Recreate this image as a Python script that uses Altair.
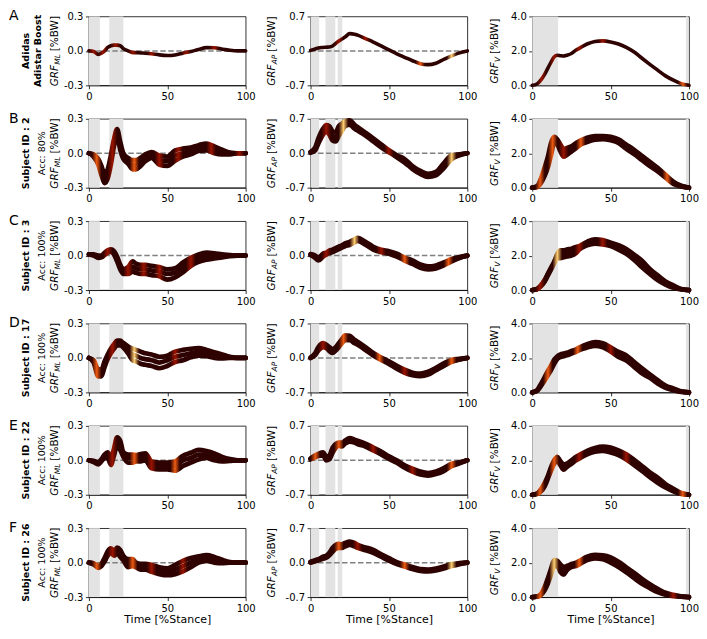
import pandas as pd
import altair as alt

FONT = "DejaVu Sans"

# stance grids (% of stance) for each column
stance_ml = [0, 3, 6, 8, 10, 12, 14, 16, 18, 20, 22, 25, 28, 30, 33, 36, 40, 45, 50, 55, 60, 65, 70, 75, 80, 85, 90, 95, 100]
stance_ap = [0, 3, 5, 8, 10, 12, 14, 16, 18, 20, 22, 25, 28, 30, 35, 40, 45, 50, 55, 60, 65, 70, 75, 80, 85, 90, 95, 100]
stance_v = stance_ap

# GRF_ML  (row A = shoe mean, rows B-F = upper / middle / lower trial)
ml_a = [[0.0, -0.005, -0.03, -0.02, 0.0, 0.03, 0.045, 0.05, 0.05, 0.045, 0.02, 0.0, -0.015, -0.015, -0.018, -0.02, -0.025, -0.035, -0.04, -0.035, -0.02, -0.005, 0.012, 0.028, 0.027, 0.015, 0.005, 0.0, 0.0]]
ml_b = [[0, -0.01, -0.05, -0.11, -0.18, -0.14, -0.02, 0.12, 0.21, 0.1, 0.0, -0.04, -0.06, -0.06, -0.04, -0.01, 0.01, -0.02, -0.03, 0.025, 0.04, 0.05, 0.07, 0.085, 0.06, 0.03, 0.005, 0, 0],
        [0, -0.02, -0.08, -0.15, -0.22, -0.18, -0.06, 0.1, 0.18, 0.06, -0.03, -0.07, -0.1, -0.1, -0.07, -0.04, -0.01, -0.06, -0.07, -0.02, 0.0, 0.02, 0.04, 0.055, 0.03, 0.01, 0.0, 0, 0],
        [0, -0.03, -0.1, -0.19, -0.26, -0.22, -0.1, 0.06, 0.15, 0.03, -0.05, -0.09, -0.14, -0.14, -0.11, -0.07, -0.04, -0.1, -0.11, -0.065, -0.03, -0.01, 0.02, 0.025, 0.0, -0.01, -0.01, 0, 0]]
ml_c = [[0.01, 0.01, 0.0, 0.0, 0.025, 0.045, 0.055, 0.04, -0.01, -0.08, -0.12, -0.1, -0.05, -0.07, -0.08, -0.08, -0.09, -0.1, -0.12, -0.11, -0.06, -0.02, 0.01, 0.025, 0.02, 0.01, 0.005, 0, 0],
        [0.01, 0.005, -0.01, -0.01, 0.015, 0.035, 0.045, 0.025, -0.03, -0.1, -0.14, -0.13, -0.1, -0.11, -0.12, -0.12, -0.13, -0.14, -0.16, -0.15, -0.1, -0.055, -0.02, 0.0, 0.0, 0.0, 0.0, 0, 0],
        [0.01, 0.0, -0.02, -0.015, 0.005, 0.025, 0.035, 0.01, -0.05, -0.12, -0.16, -0.16, -0.14, -0.15, -0.16, -0.16, -0.17, -0.18, -0.21, -0.19, -0.145, -0.09, -0.055, -0.035, -0.025, -0.015, -0.005, 0, 0]]
ml_d = [[0, -0.02, -0.1, -0.1, -0.03, 0.03, 0.08, 0.12, 0.15, 0.15, 0.13, 0.1, 0.08, 0.07, 0.055, 0.04, 0.03, 0.01, 0.02, 0.055, 0.07, 0.08, 0.085, 0.07, 0.05, 0.03, 0.01, 0, 0],
        [0, -0.03, -0.13, -0.13, -0.05, 0.01, 0.06, 0.1, 0.13, 0.13, 0.11, 0.07, 0.03, 0.02, 0.0, -0.01, -0.02, -0.04, -0.02, 0.01, 0.025, 0.04, 0.05, 0.04, 0.025, 0.01, 0.005, 0, 0],
        [0, -0.04, -0.16, -0.16, -0.08, -0.01, 0.04, 0.08, 0.11, 0.11, 0.09, 0.04, -0.02, -0.03, -0.05, -0.06, -0.07, -0.09, -0.07, -0.035, -0.02, 0.005, 0.02, 0.015, 0.0, -0.005, 0.0, 0, 0]]
ml_e = [[0, -0.005, -0.015, 0.01, 0.05, 0.07, 0.02, 0.1, 0.2, 0.17, 0.07, 0.05, 0.05, 0.045, 0.055, 0.06, -0.01, -0.02, -0.02, -0.01, 0.04, 0.065, 0.09, 0.08, 0.06, 0.03, 0.01, 0, 0],
        [0, -0.01, -0.025, 0.0, 0.035, 0.05, -0.01, 0.07, 0.17, 0.13, 0.05, 0.02, 0.02, 0.02, 0.025, 0.03, -0.04, -0.05, -0.05, -0.05, 0.0, 0.02, 0.05, 0.05, 0.03, 0.01, 0.0, 0, 0],
        [0, -0.015, -0.035, -0.01, 0.02, 0.02, -0.04, 0.04, 0.13, 0.09, 0.03, -0.02, -0.02, -0.01, -0.01, 0.0, -0.07, -0.08, -0.08, -0.09, -0.05, -0.02, 0.007, 0.02, 0.0, -0.01, -0.005, 0, 0]]
ml_f = [[0, -0.005, -0.03, -0.01, 0.04, 0.1, 0.125, 0.1, 0.13, 0.11, 0.06, 0.03, 0.03, 0.0, -0.01, -0.01, -0.02, -0.04, -0.05, -0.02, 0.015, 0.04, 0.055, 0.065, 0.05, 0.025, 0.005, 0, 0],
        [0, -0.01, -0.04, -0.02, 0.03, 0.08, 0.11, 0.08, 0.11, 0.08, 0.04, 0.0, 0.0, -0.02, -0.035, -0.035, -0.05, -0.07, -0.08, -0.06, -0.03, 0.0, 0.03, 0.04, 0.025, 0.01, 0.0, 0, 0],
        [0, -0.015, -0.045, -0.03, 0.01, 0.06, 0.09, 0.06, 0.08, 0.05, 0.02, -0.04, -0.03, -0.04, -0.06, -0.06, -0.08, -0.1, -0.11, -0.1, -0.075, -0.04, 0.0, 0.015, 0.0, -0.005, 0.0, 0, 0]]

# GRF_AP
ap_a = [[0.01, 0.04, 0.06, 0.07, 0.075, 0.08, 0.1, 0.15, 0.2, 0.24, 0.28, 0.35, 0.34, 0.32, 0.25, 0.18, 0.1, 0.02, -0.06, -0.13, -0.2, -0.26, -0.28, -0.25, -0.17, -0.1, -0.04, 0.0]]
ap_b = [[0.03, 0.12, 0.3, 0.5, 0.57, 0.55, 0.45, 0.42, 0.55, 0.6, 0.65, 0.67, 0.58, 0.53, 0.42, 0.3, 0.18, 0.06, -0.04, -0.12, -0.26, -0.36, -0.42, -0.38, -0.2, -0.04, -0.02, 0],
        [0.02, 0.09, 0.25, 0.45, 0.5, 0.46, 0.35, 0.32, 0.45, 0.52, 0.6, 0.63, 0.54, 0.5, 0.39, 0.27, 0.15, 0.04, -0.06, -0.15, -0.29, -0.39, -0.45, -0.42, -0.25, -0.08, -0.03, 0],
        [0.01, 0.06, 0.2, 0.38, 0.44, 0.38, 0.26, 0.24, 0.35, 0.45, 0.55, 0.58, 0.5, 0.46, 0.36, 0.24, 0.12, 0.02, -0.08, -0.19, -0.32, -0.42, -0.48, -0.45, -0.3, -0.12, -0.04, 0]]
ap_c = [[0.03, 0.0, -0.04, 0.04, 0.06, 0.1, 0.12, 0.15, 0.18, 0.21, 0.25, 0.28, 0.33, 0.36, 0.28, 0.18, 0.12, 0.09, 0.04, -0.04, -0.1, -0.18, -0.22, -0.2, -0.14, -0.07, -0.03, 0],
        [0.02, -0.02, -0.07, 0.01, 0.04, 0.07, 0.1, 0.12, 0.15, 0.18, 0.22, 0.25, 0.3, 0.33, 0.25, 0.15, 0.1, 0.06, 0.01, -0.07, -0.13, -0.21, -0.25, -0.23, -0.17, -0.1, -0.04, 0],
        [0.01, -0.05, -0.1, -0.02, 0.02, 0.05, 0.07, 0.1, 0.13, 0.16, 0.19, 0.22, 0.27, 0.3, 0.22, 0.12, 0.07, 0.04, -0.02, -0.1, -0.17, -0.25, -0.28, -0.26, -0.2, -0.12, -0.05, 0]]
ap_d = [[0.01, 0.1, 0.22, 0.3, 0.27, 0.22, 0.18, 0.22, 0.3, 0.38, 0.46, 0.45, 0.37, 0.33, 0.22, 0.1, 0.01, -0.07, -0.16, -0.24, -0.3, -0.32, -0.28, -0.2, -0.11, -0.04, -0.02, 0],
        [0.0, 0.08, 0.18, 0.26, 0.23, 0.18, 0.14, 0.18, 0.26, 0.34, 0.41, 0.41, 0.33, 0.3, 0.19, 0.07, -0.02, -0.1, -0.19, -0.27, -0.33, -0.35, -0.31, -0.23, -0.14, -0.06, -0.03, 0],
        [0.0, 0.06, 0.15, 0.22, 0.2, 0.14, 0.1, 0.15, 0.22, 0.3, 0.36, 0.36, 0.3, 0.27, 0.16, 0.05, -0.04, -0.12, -0.22, -0.3, -0.35, -0.37, -0.34, -0.25, -0.16, -0.08, -0.03, 0]]
ap_e = [[0.04, 0.1, 0.13, 0.16, 0.08, 0.1, 0.25, 0.33, 0.36, 0.36, 0.4, 0.45, 0.42, 0.4, 0.34, 0.26, 0.18, 0.08, 0.0, -0.1, -0.17, -0.23, -0.26, -0.23, -0.16, -0.07, -0.04, 0],
        [0.03, 0.08, 0.11, 0.13, 0.04, 0.06, 0.2, 0.29, 0.33, 0.32, 0.37, 0.42, 0.39, 0.37, 0.31, 0.23, 0.15, 0.05, -0.03, -0.12, -0.2, -0.26, -0.29, -0.26, -0.19, -0.1, -0.05, 0],
        [0.02, 0.06, 0.09, 0.1, 0.0, 0.02, 0.15, 0.25, 0.3, 0.28, 0.34, 0.38, 0.36, 0.33, 0.28, 0.2, 0.12, 0.03, -0.05, -0.15, -0.23, -0.29, -0.31, -0.28, -0.22, -0.12, -0.06, 0]]
ap_f = [[0.02, 0.05, 0.07, 0.12, 0.14, 0.2, 0.3, 0.36, 0.38, 0.37, 0.4, 0.43, 0.4, 0.36, 0.31, 0.26, 0.17, 0.09, 0.01, -0.04, -0.09, -0.13, -0.14, -0.12, -0.08, -0.03, -0.01, 0],
        [0.01, 0.04, 0.06, 0.1, 0.12, 0.17, 0.26, 0.32, 0.34, 0.33, 0.37, 0.4, 0.37, 0.33, 0.28, 0.23, 0.15, 0.06, -0.01, -0.06, -0.11, -0.15, -0.16, -0.14, -0.1, -0.05, -0.02, 0],
        [0.0, 0.03, 0.05, 0.08, 0.1, 0.15, 0.22, 0.28, 0.3, 0.3, 0.33, 0.36, 0.33, 0.3, 0.25, 0.2, 0.12, 0.04, -0.03, -0.08, -0.13, -0.17, -0.18, -0.16, -0.12, -0.07, -0.03, 0]]

# GRF_V
v_a = [[0.0, 0.08, 0.25, 0.65, 1.0, 1.35, 1.65, 1.75, 1.72, 1.7, 1.75, 1.85, 2.05, 2.15, 2.4, 2.55, 2.58, 2.52, 2.4, 2.2, 1.93, 1.57, 1.22, 0.88, 0.55, 0.3, 0.1, 0.0]]
v_b = [[0, 0.08, 0.4, 1.2, 1.8, 2.6, 2.95, 2.8, 2.5, 2.25, 2.3, 2.4, 2.6, 2.7, 2.9, 3.0, 3.0, 2.95, 2.8, 2.5, 2.2, 1.85, 1.5, 1.15, 0.75, 0.35, 0.12, 0],
       [0, 0.05, 0.3, 0.95, 1.5, 2.25, 2.8, 2.65, 2.3, 2.05, 2.1, 2.25, 2.45, 2.57, 2.77, 2.9, 2.92, 2.85, 2.7, 2.38, 2.08, 1.73, 1.38, 1.05, 0.67, 0.29, 0.1, 0],
       [0, 0.03, 0.2, 0.7, 1.2, 1.9, 2.6, 2.5, 2.1, 1.8, 1.9, 2.1, 2.3, 2.45, 2.65, 2.78, 2.82, 2.75, 2.6, 2.25, 1.95, 1.6, 1.25, 0.95, 0.58, 0.22, 0.07, 0]]
v_c = [[0, 0.06, 0.22, 0.6, 0.95, 1.3, 1.65, 2.1, 2.3, 2.3, 2.35, 2.4, 2.5, 2.55, 2.8, 2.95, 2.9, 2.75, 2.6, 2.38, 2.05, 1.7, 1.23, 0.85, 0.5, 0.27, 0.06, 0],
       [0, 0.05, 0.2, 0.55, 0.9, 1.25, 1.6, 1.95, 2.1, 2.1, 2.15, 2.2, 2.32, 2.45, 2.7, 2.82, 2.78, 2.65, 2.47, 2.24, 1.9, 1.52, 1.08, 0.72, 0.4, 0.2, 0.05, 0],
       [0, 0.04, 0.18, 0.5, 0.85, 1.2, 1.55, 1.85, 1.85, 1.9, 1.95, 2.0, 2.15, 2.35, 2.6, 2.7, 2.65, 2.55, 2.35, 2.1, 1.75, 1.33, 0.94, 0.58, 0.32, 0.13, 0.03, 0]]
v_d = [[0, 0.12, 0.4, 0.9, 1.25, 1.55, 1.9, 2.1, 2.2, 2.25, 2.3, 2.4, 2.5, 2.6, 2.8, 2.92, 2.85, 2.62, 2.35, 2.15, 1.77, 1.4, 1.05, 0.71, 0.4, 0.23, 0.06, 0],
       [0, 0.1, 0.35, 0.8, 1.12, 1.42, 1.77, 2.02, 2.12, 2.17, 2.22, 2.32, 2.42, 2.52, 2.7, 2.8, 2.74, 2.5, 2.2, 2.0, 1.62, 1.25, 0.95, 0.6, 0.33, 0.17, 0.05, 0],
       [0, 0.08, 0.3, 0.7, 1.0, 1.3, 1.65, 1.95, 2.05, 2.1, 2.15, 2.25, 2.35, 2.45, 2.6, 2.7, 2.62, 2.38, 2.06, 1.85, 1.48, 1.1, 0.85, 0.52, 0.27, 0.13, 0.03, 0]]
v_e = [[0, 0.06, 0.25, 0.7, 1.1, 1.6, 2.0, 2.2, 1.95, 1.75, 1.8, 2.0, 2.2, 2.3, 2.55, 2.72, 2.8, 2.74, 2.58, 2.35, 2.02, 1.67, 1.3, 0.99, 0.62, 0.35, 0.1, 0],
       [0, 0.05, 0.2, 0.6, 1.0, 1.5, 1.9, 2.05, 1.82, 1.6, 1.7, 1.9, 2.1, 2.2, 2.45, 2.6, 2.67, 2.6, 2.45, 2.2, 1.88, 1.52, 1.15, 0.85, 0.52, 0.27, 0.07, 0],
       [0, 0.04, 0.15, 0.5, 0.95, 1.4, 1.8, 1.95, 1.7, 1.45, 1.6, 1.8, 2.0, 2.1, 2.35, 2.5, 2.55, 2.45, 2.3, 2.05, 1.72, 1.38, 1.02, 0.7, 0.42, 0.2, 0.05, 0]]
v_f = [[0, 0.04, 0.12, 0.6, 1.1, 1.65, 2.15, 2.1, 1.9, 1.75, 1.8, 1.92, 2.0, 2.1, 2.35, 2.45, 2.42, 2.3, 2.05, 1.73, 1.4, 1.06, 0.75, 0.48, 0.25, 0.13, 0.04, 0],
       [0, 0.03, 0.1, 0.5, 0.95, 1.48, 1.95, 1.95, 1.68, 1.5, 1.65, 1.82, 1.9, 2.0, 2.25, 2.35, 2.32, 2.15, 1.9, 1.58, 1.26, 0.92, 0.63, 0.39, 0.19, 0.1, 0.03, 0],
       [0, 0.02, 0.08, 0.4, 0.8, 1.3, 1.8, 1.8, 1.45, 1.3, 1.55, 1.75, 1.8, 1.9, 2.15, 2.25, 2.2, 2.0, 1.75, 1.44, 1.1, 0.77, 0.52, 0.29, 0.14, 0.06, 0.02, 0]]

# shaded gait phases (start, end) in % stance
bands_ml = [(0, 7), (13, 22)]
bands_ap = [(0, 5.5), (9.5, 15.8), (17.3, 20.2)]
bands_v = [(0, 16.5), (98, 99.6)]

row_letters = ["A", "B", "C", "D", "E", "F"]
shoe_name = ["Adidas", "Adistar Boost"]
subject_ids = ["2", "3", "17", "22", "26"]
accuracies = ["80%", "100%", "100%", "100%", "100%"]

# relevance hot spots along stance (stance %, level) -> drawn as colour gradient
hot_spots = {
    "ML": [[(3, 1), (9, 1), (17, 1), (28, 1), (40, 1), (62, 1), (80, 1)],
           [(5, 2), (15, 1), (29, 2), (45, 1), (57, 1), (78, 1), (96, 1)],
           [(12, 1), (25, 1), (35, 1), (45, 1), (65, 1)],
           [(5, 2), (15, 1), (29, 3), (55, 1)],
           [(15, 1), (29, 2), (40, 1), (55, 2)],
           [(5, 2), (15, 1), (28, 2), (40, 1), (60, 1)]],
    "AP": [[(18, 1), (35, 1), (70, 2), (90, 3)],
           [(10, 1), (21, 3), (50, 1), (90, 3)],
           [(10, 1), (28, 3), (45, 1), (60, 2), (88, 2)],
           [(8, 1), (21, 2), (44, 2), (60, 1), (90, 2)],
           [(3, 2), (18, 2), (40, 1), (65, 1), (90, 2)],
           [(18, 2), (30, 1), (60, 2), (90, 3)]],
    "V": [[(6, 1), (14, 1), (30, 1), (45, 1), (96, 2)],
          [(5, 2), (13, 2), (20, 1), (31, 2), (86, 2)],
          [(5, 1), (16, 3), (30, 1), (45, 1)],
          [(10, 2), (29, 2), (50, 1)],
          [(5, 2), (14, 2), (30, 1), (60, 1), (96, 2)],
          [(5, 2), (14, 3), (30, 2), (90, 1)]],
}
BASE = "#2e0200"
HOT = {1: "#9a1400", 2: "#ee5a10", 3: "#ffcf70"}

COLUMNS = [
    dict(key="ML", xs=stance_ml, rows=[ml_a, ml_b, ml_c, ml_d, ml_e, ml_f], domain=[-0.3, 0.3],
         ticks=[-0.3, 0.0, 0.3], bands=bands_ml, sub="ML", sub_w=10.6, zero=True, title_x=-34),
    dict(key="AP", xs=stance_ap, rows=[ap_a, ap_b, ap_c, ap_d, ap_e, ap_f], domain=[-0.7, 0.7],
         ticks=[-0.7, 0.0, 0.7], bands=bands_ap, sub="AP", sub_w=9.7, zero=True, title_x=-39),
    dict(key="V", xs=stance_v, rows=[v_a, v_b, v_c, v_d, v_e, v_f], domain=[0, 4],
         ticks=[0.0, 2.0, 4.0], bands=bands_v, sub="V", sub_w=5.1, zero=False, title_x=-37),
]

W, H = 157, 69


def gradient(spots):
    stops = [(0.0, BASE)]
    for s, lvl in spots:
        stops += [(max(s - 3, 0), BASE), (s, HOT[lvl]), (min(s + 3, 100), BASE)]
    stops.append((100.0, BASE))
    return alt.LinearGradient(
        gradient="linear", x1=0, y1=0, x2=1, y2=0,
        stops=[alt.GradientStop(offset=o / 100, color=c) for o, c in stops],
    )


def label(text, x, y, **kw):
    return alt.Chart(pd.DataFrame({"t": [text]})).mark_text(font=FONT, **kw).encode(
        text="t:N", x=alt.value(x), y=alt.value(y)
    )


def panel(r, c):
    col = COLUMNS[c]
    xs = col["xs"]
    curves = col["rows"][r]
    df = pd.DataFrame({
        "stance": [x for cv in curves for x in xs],
        "value": [y for cv in curves for y in cv],
        "trial": [i for i, cv in enumerate(curves) for _ in xs],
    })
    xsc = alt.Scale(domain=[0, 100], nice=False)
    ysc = alt.Scale(domain=col["domain"], nice=False, zero=False)
    xax_kw = dict(values=[0, 50, 100], format="d", labelFlush=False, title="")
    if r == 5:
        xax_kw["title"] = "Time [%Stance]"
    xax = alt.Axis(**xax_kw)
    yax = alt.Axis(values=col["ticks"], title="",
                   labelExpr="datum.value < 0 ? '-' + format(-datum.value, '.1f') : format(datum.value, '.1f')")

    bands = alt.Chart(pd.DataFrame(col["bands"], columns=["start", "end"])).mark_rect(
        color="#e3e3e3"
    ).encode(x=alt.X("start:Q", scale=xsc, axis=xax), x2="end:Q")

    lines = alt.Chart(df).mark_line(
        color=gradient(hot_spots[col["key"]][r]), strokeWidth=3.6 if r == 0 else 4.7,
        interpolate="monotone", strokeCap="round", strokeJoin="round",
    ).encode(
        x=alt.X("stance:Q", scale=xsc, axis=xax),
        y=alt.Y("value:Q", scale=ysc, axis=yax),
        detail="trial:N",
    )

    layers = [bands]
    if col["zero"]:
        layers.append(alt.Chart(pd.DataFrame({"value": [0.0]})).mark_rule(
            color="#808080", strokeWidth=1.5, strokeDash=[5.5, 2.5]
        ).encode(y=alt.Y("value:Q", scale=ysc, axis=yax)))
    layers.append(lines)

    # y-axis title: italic GRF with subscript, then [%BW]
    wg, ws, wb = 21.5, col["sub_w"], 35.8
    bottom = H / 2 + (wg + ws + 3 + wb) / 2
    tx = col["title_x"]
    rot = dict(angle=270, align="left", baseline="middle")
    layers.append(label("GRF", tx, bottom, fontSize=10.5, fontStyle="italic", **rot))
    layers.append(label(col["sub"], tx + 3, bottom - wg, fontSize=7.5, fontStyle="italic", **rot))
    layers.append(label("[%BW]", tx, bottom - wg - ws - 3, fontSize=10.5, **rot))

    if c == 0:
        layers.append(label(row_letters[r], -80, 4, fontSize=14, align="left", baseline="alphabetic"))
        cen = dict(angle=270, align="center", baseline="middle", fontSize=9.5)
        if r == 0:
            layers.append(label(shoe_name[0], -63, H / 2, fontWeight="bold", **cen))
            layers.append(label(shoe_name[1], -51, H / 2, fontWeight="bold", **cen))
        else:
            layers.append(label("Subject ID : " + subject_ids[r - 1], -63, H / 2, fontWeight="bold", **cen))
            layers.append(label("A\u1d04\u1d04: " + accuracies[r - 1], -47, H / 2, **cen))

    return alt.layer(*layers).properties(width=W, height=H)


panels = [panel(r, c) for r in range(6) for c in range(3)]

chart = alt.concat(
    *panels, columns=3, spacing={"row": 33.5, "column": 65}, bounds="flush"
).properties(
    padding=0
).configure(
    font=FONT
).configure_axis(
    labelFont=FONT, titleFont=FONT, labelFontSize=10, titleFontSize=11,
    titleFontWeight="normal", labelColor="black", titleColor="black",
    tickSize=3.5, tickColor="black", tickWidth=0.8, domainColor="black",
    domainWidth=0.8, labelPadding=2.5, titlePadding=0, grid=False,
).configure_view(
    stroke="black", strokeWidth=0.8
)

chart.save("out.html", embed_options={"renderer": "svg", "actions": False})
